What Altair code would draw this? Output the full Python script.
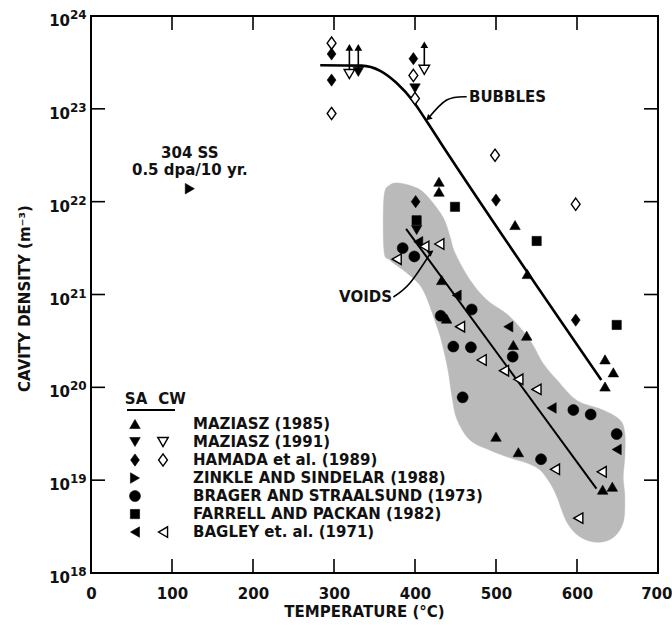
import altair as alt
import pandas as pd

FONT = "DejaVu Sans"
INK = "#111111"

# ---------------- data: temperature (°C) and cavity density (m^-3) ----------------
maz85_sa_x = [429.6, 429.6, 523.5, 538.7, 433, 439, 537.9, 521.4, 500, 527.6, 631.7, 643.6, 634.6, 644.9, 634.6]
maz85_sa_y = [1.64e22, 1.28e22, 5.6e21, 1.66e21, 1.43e21, 5.5e20, 3.6e20, 2.86e20, 2.94e19, 2.0e19,
              7.9e18, 8.5e18, 2.0e20, 1.45e20, 1.02e20]

maz91_sa_x = [330, 400, 402]
maz91_sa_y = [2.5e23, 1.66e23, 4.95e21]
maz91_cw_x = [319, 411.5]
maz91_cw_y = [2.37e23, 2.63e23]

# lower-bound arrows (Maziasz 1991)
arrow_x = [319, 330, 411.5]
arrow_from = [2.37e23, 2.5e23, 2.63e23]
arrow_to = [4.6e23, 4.6e23, 4.9e23]

ham_sa_x = [297, 297, 398, 400.8, 500, 598.4]
ham_sa_y = [3.9e23, 2.04e23, 3.47e23, 1.0e22, 1.04e22, 5.3e20]
ham_cw_x = [297, 297, 398, 400, 498.8, 598.4]
ham_cw_y = [5.1e23, 8.9e22, 2.29e23, 1.29e23, 3.16e22, 9.4e21]

zin_sa_x = [122]
zin_sa_y = [1.38e22]

bra_sa_x = [384.8, 399.2, 431.7, 470, 520.6, 447.3, 469, 458.8, 595.5, 616.9, 649, 555.6]
bra_sa_y = [3.16e21, 2.57e21, 5.9e20, 6.9e20, 2.14e20, 2.75e20, 2.7e20, 7.8e19, 5.7e19, 5.1e19, 3.14e19, 1.68e19]

far_sa_x = [449.4, 402, 550.2, 649]
far_sa_y = [8.8e21, 6.3e21, 3.77e21, 4.7e20]

bag_sa_x = [404, 451.4, 515.2, 568.7, 649]
bag_sa_y = [3.7e21, 9.8e20, 4.5e20, 6.0e19, 2.14e19]
bag_cw_x = [411.5, 430, 377.4, 455.6, 482.3, 509.9, 527.6, 550, 572.8, 630.5, 601.6]
bag_cw_y = [3.3e21, 3.5e21, 2.4e21, 4.5e20, 1.97e20, 1.51e20, 1.22e20, 9.5e19, 1.31e19, 1.23e19, 3.9e18]

# trend curves
bubbles_x = [283, 334, 357, 377, 398, 412, 431, 630]
bubbles_y = [2.95e23, 2.92e23, 2.57e23, 1.91e23, 1.2e23, 7.9e22, 4.4e22, 1.2e20]
voids_x = [389, 624]
voids_y = [5.1e21, 8.1e18]

# shaded void band outline
band_x = [361.7, 369.1, 381.5, 402.5, 416, 434.6, 443.2, 449.4, 467.9, 488.9, 517.3, 542, 558, 575.3,
          600, 632, 653, 659, 659, 657, 659, 657, 644.4, 624.7, 603.7, 587.7, 575.3, 566.7, 554.3,
          538.3, 517.3, 492.6, 467.9, 451.9, 445.7, 440.7, 433.3, 427.2, 409.9, 390.1, 369.1, 361.7]
band_y = [1.12e22, 1.51e22, 1.58e22, 1.40e22, 1.12e22, 6.8e21, 4.2e21, 2.8e21, 1.43e21, 8.7e20, 5.75e20,
          3.2e20, 1.82e20, 1.2e20, 7.2e19, 5.7e19, 4.45e19, 3.2e19, 1.78e19, 1.07e19, 6.6e18, 3.5e18,
          2.4e18, 2.14e18, 2.45e18, 3.5e18, 6.6e18, 9.3e18, 1.29e19, 1.53e19, 1.74e19, 2.1e19, 2.7e19,
          4.5e19, 7.9e19, 1.55e20, 3.0e20, 4.5e20, 1.12e21, 1.7e21, 2.34e21, 3.0e21]

# annotation arrows
bub_arrow_x = [463.8, 439.1, 416.4]
bub_arrow_y = [1.35e23, 1.245e23, 7.9e22]
void_arrow_x = [373.3, 393.8, 419.8]
void_arrow_y = [9.4e20, 1.33e21, 2.85e21]

legend_labels = ["MAZIASZ (1985)", "MAZIASZ (1991)", "HAMADA et al. (1989)", "ZINKLE AND SINDELAR (1988)",
                 "BRAGER AND STRAALSUND (1973)", "FARRELL AND PACKAN (1982)", "BAGLEY et. al. (1971)"]

x_label_vals = [0, 100, 200, 300, 400, 500, 600, 700]
x_ticks = [100, 200, 300, 400, 500, 600]
y_ticks = [1e19, 1e20, 1e21, 1e22, 1e23]
y_label_vals = [1e18, 1e19, 1e20, 1e21, 1e22, 1e23, 1e24]
y_label_exp = ["18", "19", "20", "21", "22", "23", "24"]

# ---------------- layout ----------------
W, H = 567, 557
TICK = 14

xs = alt.Scale(domain=[0, 700], nice=False, zero=False)
ys = alt.Scale(type="log", domain=[1e18, 1e24], nice=False)

x_axis = alt.Axis(values=x_label_vals, format="d", ticks=False, domain=False,
                  grid=False, labelFlush=False, labelFont=FONT, labelFontSize=15, labelFontWeight="bold",
                  labelColor=INK, labelPadding=13,
                  labelAlign={"condition": {"test": "datum.value >= 700", "value": "right"}, "value": "center"},
                  labelOffset={"condition": {"test": "datum.value >= 700", "value": 14}, "value": 0},
                  title="TEMPERATURE (°C)", titleFont=FONT,
                  titleFontSize=15, titleFontWeight="bold", titleColor=INK, titleX=273, titleY=31,
                  titleBaseline="top", titleAlign="center")
y_axis = alt.Axis(labels=False, ticks=False, domain=False, grid=False, title="CAVITY DENSITY (m⁻³)",
                  titleFont=FONT, titleFontSize=15, titleFontWeight="bold", titleColor=INK,
                  titleX=-67, titleY=282, titleAngle=270, titleAlign="center", titleBaseline="middle")

X = alt.X("x:Q", scale=xs, axis=x_axis)
Y = alt.Y("y:Q", scale=ys, axis=y_axis)

DIAMOND = "M0,-1L0.72,0L0,1L-0.72,0Z"

LEG_X_SA = 54.3
LEG_X_CW = 88.9
LEG_X_TEXT = 126
LEG_TOP = 19.605
LEG_STEP = 0.194


def leg_y(i):
    return 10 ** (LEG_TOP - i * LEG_STEP)


def points(x, y, shape, size, filled):
    df = pd.DataFrame({"x": x, "y": y})
    if filled:
        m = alt.Chart(df).mark_point(shape=shape, size=size, filled=True, fill="black", stroke="black",
                                     strokeWidth=0.6, opacity=1)
    else:
        m = alt.Chart(df).mark_point(shape=shape, size=size, filled=True, fill="white", stroke="black",
                                     strokeWidth=1.4, opacity=1)
    return m.encode(x=X, y=Y)


series = [
    # (x, y, shape, size, filled, legend row, column)
    (maz85_sa_x, maz85_sa_y, "triangle-up", 110, True, 0, "SA"),
    (maz91_sa_x, maz91_sa_y, "triangle-down", 110, True, 1, "SA"),
    (maz91_cw_x, maz91_cw_y, "triangle-down", 110, False, 1, "CW"),
    (ham_sa_x, ham_sa_y, DIAMOND, 150, True, 2, "SA"),
    (ham_cw_x, ham_cw_y, DIAMOND, 150, False, 2, "CW"),
    (zin_sa_x, zin_sa_y, "triangle-right", 110, True, 3, "SA"),
    (bra_sa_x, bra_sa_y, "circle", 120, True, 4, "SA"),
    (far_sa_x, far_sa_y, "square", 85, True, 5, "SA"),
    (bag_sa_x, bag_sa_y, "triangle-left", 110, True, 6, "SA"),
    (bag_cw_x, bag_cw_y, "triangle-left", 110, False, 6, "CW"),
]

layers = []

# shaded band
band_df = pd.DataFrame({"x": band_x, "y": band_y, "i": list(range(len(band_x)))})
layers.append(alt.Chart(band_df).mark_line(interpolate="cardinal-closed", fill="#bababa", stroke="#bababa",
                                           strokeWidth=0.5, fillOpacity=1)
              .encode(x=X, y=Y, order=alt.Order("i:Q")))

# trend lines
layers.append(alt.Chart(pd.DataFrame({"x": bubbles_x, "y": bubbles_y})).mark_line(
    color="black", strokeWidth=2.6, interpolate="monotone").encode(x=X, y=Y))
layers.append(alt.Chart(pd.DataFrame({"x": voids_x, "y": voids_y})).mark_line(
    color="black", strokeWidth=2).encode(x=X, y=Y))

# annotation arrows
for ax, ay, ang in [(bub_arrow_x, bub_arrow_y, 226), (void_arrow_x, void_arrow_y, 55)]:
    adf = pd.DataFrame({"x": ax, "y": ay, "i": [0, 1, 2]})
    layers.append(alt.Chart(adf).mark_line(color="black", strokeWidth=1.6, interpolate="natural")
                  .encode(x=X, y=Y, order=alt.Order("i:Q")))
    layers.append(alt.Chart(adf.iloc[[2]]).mark_point(shape="triangle-up", size=45, filled=True,
                                                      color="black", angle=ang, opacity=1)
                  .encode(x=X, y=Y))

# lower-bound arrows
arr_df = pd.DataFrame({"x": arrow_x, "y": arrow_from, "y2": arrow_to})
layers.append(alt.Chart(arr_df).mark_rule(color="black", strokeWidth=1.6).encode(x=X, y=Y, y2="y2:Q"))
layers.append(alt.Chart(pd.DataFrame({"x": arrow_x, "y": arrow_to})).mark_point(
    shape="triangle-up", size=60, filled=True, color="black", opacity=1).encode(x=X, y=Y))

# data markers + legend symbols
for sx, sy, shape, size, filled, row, col in series:
    layers.append(points(sx, sy, shape, size, filled))
    lx = LEG_X_SA if col == "SA" else LEG_X_CW
    layers.append(points([lx], [leg_y(row)], shape, size, filled))

# legend text
leg_df = pd.DataFrame({"x": [LEG_X_TEXT] * len(legend_labels),
                       "y": [leg_y(i) for i in range(len(legend_labels))],
                       "t": legend_labels})
layers.append(alt.Chart(leg_df).mark_text(align="left", baseline="middle", font=FONT, fontSize=15,
                                          fontWeight="bold", color=INK)
              .encode(x=X, y=Y, text="t:N"))
hdr_df = pd.DataFrame({"x": [55.6, 100], "y": [10 ** 19.874] * 2, "t": ["SA", "CW"]})
layers.append(alt.Chart(hdr_df).mark_text(align="center", baseline="middle", font=FONT, fontSize=15,
                                          fontWeight="bold", color=INK)
              .encode(x=X, y=Y, text="t:N"))
layers.append(alt.Chart(pd.DataFrame({"x": [44.4], "x2": [103.7], "y": [10 ** 19.756]})).mark_rule(
    color="black", strokeWidth=2).encode(x=X, x2="x2:Q", y=Y))

# free annotations
ann_df = pd.DataFrame({"x": [464.2, 371.6, 122, 122],
                       "y": [10 ** 23.127, 10 ** 20.973, 10 ** 22.524, 10 ** 22.34],
                       "t": ["BUBBLES", "VOIDS", "304 SS", "0.5 dpa/10 yr."],
                       "a": ["left", "right", "center", "center"]})
for al in ["left", "right", "center"]:
    sub = ann_df[ann_df["a"] == al]
    layers.append(alt.Chart(sub).mark_text(align=al, baseline="middle", font=FONT, fontSize=15,
                                           fontWeight="bold", color=INK, dx=2 if al == "left" else 0)
                  .encode(x=X, y=Y, text="t:N"))

# inward ticks on all four sides
xt = pd.DataFrame({"x": x_ticks})
yt = pd.DataFrame({"y": y_ticks})
rule_kw = dict(color="black", strokeWidth=1.6)
layers.append(alt.Chart(xt).mark_rule(**rule_kw).encode(x=X, y=alt.value(H), y2=alt.value(H - TICK)))
layers.append(alt.Chart(xt).mark_rule(**rule_kw).encode(x=X, y=alt.value(0), y2=alt.value(TICK)))
layers.append(alt.Chart(yt).mark_rule(**rule_kw).encode(y=Y, x=alt.value(0), x2=alt.value(TICK)))
layers.append(alt.Chart(yt).mark_rule(**rule_kw).encode(y=Y, x=alt.value(W), x2=alt.value(W - TICK)))

# y tick labels as 10 with superscript exponents
yl = pd.DataFrame({"y": y_label_vals, "e": y_label_exp, "b": ["10"] * len(y_label_vals)})
layers.append(alt.Chart(yl).mark_text(align="right", baseline="middle", font=FONT, fontSize=15,
                                      fontWeight="bold", color=INK, dy=5)
              .encode(x=alt.value(-21), y=Y, text="b:N"))
layers.append(alt.Chart(yl).mark_text(align="left", baseline="middle", font=FONT, fontSize=12,
                                      fontWeight="bold", color=INK, dy=-1)
              .encode(x=alt.value(-21), y=Y, text="e:N"))

chart = alt.layer(*layers).properties(
    width=W, height=H,
    autosize=alt.AutoSizeParams(type="none"),
    padding={"left": 91, "top": 16, "right": 14, "bottom": 52},
    background="white",
).configure_view(stroke="black", strokeWidth=2)

chart.save("out.html", embed_options={"renderer": "svg", "actions": False})
